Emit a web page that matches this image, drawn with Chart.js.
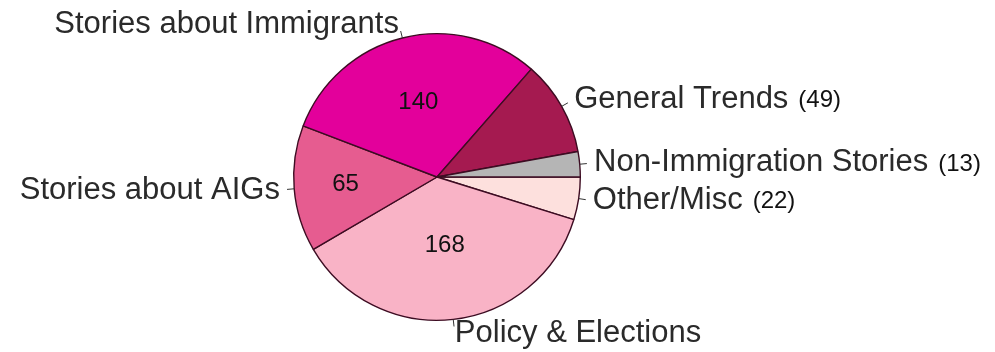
<!DOCTYPE html>
<html lang="en">
<head>
    <meta charset="UTF-8">
    <title>Immigration Stories by Topic</title>
    <script src="https://cdn.jsdelivr.net/npm/chart.js"></script>
    <style>
        html, body {
            margin: 0;
            padding: 0;
            background: #ffffff;
        }
        #topicChart {
            display: block;
        }
    </style>
</head>
<body>
    <canvas id="topicChart" width="995" height="352"></canvas>

    <script>
        // slices in clockwise order, starting at 3 o'clock
        const categories = ["Other/Misc", "Policy & Elections", "Stories about AIGs",
                            "Stories about Immigrants", "General Trends", "Non-Immigration Stories"];
        const storyCounts = [22, 168, 65, 140, 49, 13];
        const sliceColors = ["#fde0dd", "#f9b3c6", "#e65c90", "#e3009b", "#a51a50", "#b5b5b5"];

        // big slices get their number inside, small ones get it after the label
        const insideThreshold = 60;
        const insideRadius = [0, 0.48, 0.64, 0.54, 0, 0];

        const pieLabels = {
            id: "pieLabels",
            afterDraw(chart) {
                let ctx = chart.ctx;
                let arcs = chart.getDatasetMeta(0).data;
                ctx.save();
                arcs.forEach((arc, i) => {
                    let mid = (arc.startAngle + arc.endAngle) / 2;
                    let r = arc.outerRadius;
                    let cos = Math.cos(mid), sin = Math.sin(mid);

                    // short leader tick
                    ctx.strokeStyle = "#333";
                    ctx.lineWidth = 1;
                    ctx.beginPath();
                    ctx.moveTo(arc.x + cos * r, arc.y + sin * r);
                    ctx.lineTo(arc.x + cos * r * 1.05, arc.y + sin * r * 1.05);
                    ctx.stroke();

                    // category name
                    let tx = arc.x + cos * r * 1.1;
                    let ty = arc.y + sin * r * 1.1;
                    ctx.font = "31px 'Liberation Sans', Arial, sans-serif";
                    ctx.fillStyle = "#2a2a2a";
                    ctx.textBaseline = "middle";
                    ctx.textAlign = cos < 0 ? "right" : "left";
                    ctx.fillText(categories[i], tx, ty);

                    let v = storyCounts[i];
                    if (v >= insideThreshold) {
                        let ir = r * insideRadius[i];
                        ctx.font = "24px 'Liberation Sans', Arial, sans-serif";
                        ctx.fillStyle = "#111";
                        ctx.textAlign = "center";
                        ctx.fillText(String(v), arc.x + cos * ir, arc.y + sin * ir);
                    } else {
                        let w = ctx.measureText(categories[i]).width;
                        ctx.font = "24px 'Liberation Sans', Arial, sans-serif";
                        ctx.fillStyle = "#111";
                        ctx.textAlign = "left";
                        ctx.fillText("(" + v + ")", tx + w + 10, ty + 1);
                    }
                });
                ctx.restore();
            }
        };

        let ctx = document.getElementById("topicChart").getContext("2d");
        new Chart(ctx, {
            type: "pie",
            data: {
                labels: categories,
                datasets: [{
                    data: storyCounts,
                    backgroundColor: sliceColors,
                    borderColor: "#3d0c22",
                    borderWidth: 1.4
                }]
            },
            options: {
                responsive: false,
                animation: false,
                rotation: 90,
                layout: {
                    padding: { top: 33, bottom: 31, left: 0, right: 121 }
                },
                plugins: {
                    legend: { display: false },
                    tooltip: { enabled: false }
                }
            },
            plugins: [pieLabels]
        });
    </script>
</body>
</html>
